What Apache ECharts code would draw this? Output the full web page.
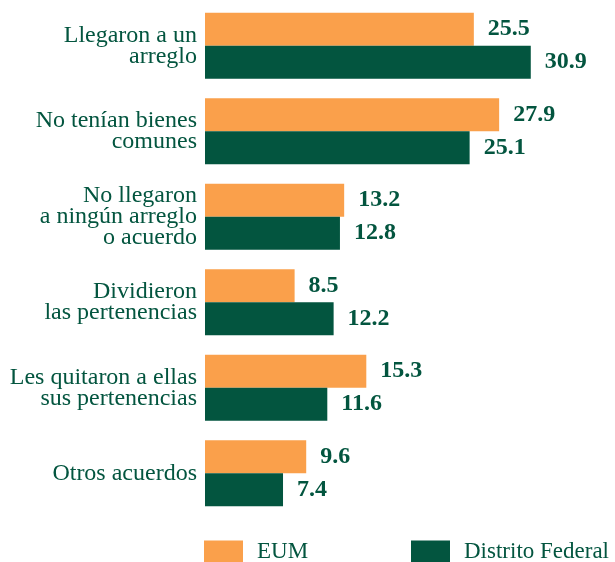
<!DOCTYPE html>
<html>
<head>
<meta charset="utf-8">
<script src="https://cdn.jsdelivr.net/npm/echarts@6/dist/echarts.min.js"></script>
<style>
  html, body { margin: 0; padding: 0; background: #fff; }
  #chart { width: 615px; height: 562px; }
</style>
</head>
<body>
<div id="chart"></div>
<script>
const categories = [
  "Llegaron a un\narreglo",
  "No tenían bienes\ncomunes",
  "No llegaron\na ningún arreglo\no acuerdo",
  "Dividieron\nlas pertenencias",
  "Les quitaron a ellas\nsus pertenencias",
  "Otros acuerdos"
];
const eum = [25.5, 27.9, 13.2, 8.5, 15.3, 9.6];
const distritoFederal = [30.9, 25.1, 12.8, 12.2, 11.6, 7.4];

const orange = "#faa04b";
const green = "#03553f";
const serif = "Liberation Serif";

const labelStyle = {
  show: true,
  position: "right",
  distance: 14,
  color: green,
  fontFamily: serif,
  fontWeight: "bold",
  fontSize: 24
};

const legendText = { fontFamily: serif, fontSize: 23, lineHeight: 22, color: green, padding: [0, 0, 0, 9] };

const chart = echarts.init(document.getElementById("chart"));
chart.setOption({
  animation: false,
  grid: { left: 205, top: 3, width: 369, height: 513 },
  legend: [
    {
      data: ["EUM"],
      left: 204, top: 540, padding: 0,
      itemWidth: 39, itemHeight: 22,
      icon: "rect",
      textStyle: legendText
    },
    {
      data: ["Distrito Federal"],
      left: 411, top: 540, padding: 0,
      itemWidth: 39, itemHeight: 22,
      icon: "rect",
      textStyle: legendText
    }
  ],
  xAxis: {
    type: "value",
    min: 0,
    max: 35,
    show: false
  },
  yAxis: {
    type: "category",
    inverse: true,
    data: categories,
    axisLine: { show: false },
    axisTick: { show: false },
    axisLabel: {
      margin: 8,
      color: green,
      fontFamily: serif,
      fontSize: 24,
      lineHeight: 21,
      align: "right"
    }
  },
  series: [
    {
      name: "EUM",
      type: "bar",
      data: eum,
      barWidth: 33,
      barGap: "0%",
      itemStyle: { color: orange },
      label: labelStyle
    },
    {
      name: "Distrito Federal",
      type: "bar",
      data: distritoFederal,
      barWidth: 33,
      itemStyle: { color: green },
      label: labelStyle
    }
  ]
});
</script>
</body>
</html>
